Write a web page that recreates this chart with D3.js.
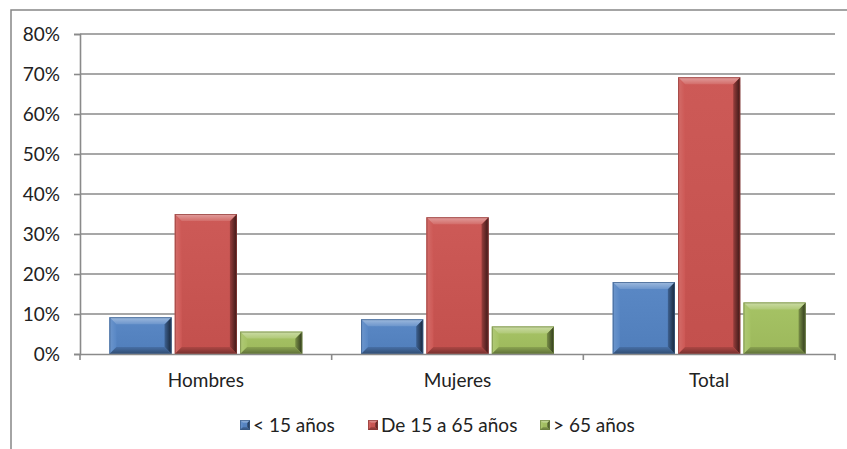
<!DOCTYPE html>
<html><head><meta charset="utf-8">
<script src="https://cdn.jsdelivr.net/npm/d3@7"></script>
<style>body{margin:0;background:#fff}svg{display:block}text{font-family:Lato,"Open Sans",sans-serif;fill:#222}</style>
</head><body>
<svg id="c" width="847" height="449"></svg>
<script>
const categories = ["Hombres","Mujeres","Total"];
const seriesNames = ["< 15 años","De 15 a 65 años","> 65 años"];
const seriesColors = ["#5383C3","#CB5350","#A2C05F"];
const under15 = [0.092,0.087,0.180];
const from15to65 = [0.350,0.342,0.692];
const over65 = [0.056,0.069,0.129];
const yTicks = [0,0.1,0.2,0.3,0.4,0.5,0.6,0.7,0.8];

const seriesValues = [under15, from15to65, over65];
const svg = d3.select("#c");
const defs = svg.append("defs");
const M = {left:80, right:835, top:34, bottom:354};
const FONT = "Lato,'Open Sans',sans-serif";

svg.append("rect").attr("x",11).attr("y",10).attr("width",900).attr("height",500)
  .attr("fill","none").attr("stroke","#868686").attr("stroke-width",1.5);

const x0 = d3.scaleBand().domain(categories).range([M.left,M.right]).paddingInner(0).paddingOuter(0);
const x1 = d3.scaleBand().domain(d3.range(3)).range([0,x0.bandwidth()]).paddingOuter(0.45).paddingInner(0.05);
const y = d3.scaleLinear().domain([0,0.8]).range([M.bottom,M.top]);

svg.append("g").selectAll("line").data(yTicks.slice(1)).join("line")
  .attr("x1",M.left).attr("x2",M.right).attr("y1",d=>y(d)).attr("y2",d=>y(d))
  .attr("stroke","#8a8a8a").attr("stroke-width",1.6);

const ya = svg.append("g").attr("transform",`translate(${M.left},0)`)
  .call(d3.axisLeft(y).tickValues(yTicks).tickFormat(d3.format(".0%")).tickSize(6).tickPadding(14));
ya.select(".domain").attr("stroke","#8a8a8a").attr("stroke-width",1.6);
ya.selectAll(".tick line").attr("stroke","#8a8a8a").attr("stroke-width",1.6);
ya.selectAll("text").attr("font-size",19).style("font-family",FONT).attr("fill","#222");

function mix(c, t, k){ const a=d3.color(c), b=d3.color(t); return d3.rgb(a.r+(b.r-a.r)*k, a.g+(b.g-a.g)*k, a.b+(b.b-a.b)*k).formatHex(); }

function grad(id, x1,y1,x2,y2, c1, c2){
  const g = defs.append("linearGradient").attr("id",id).attr("x1",x1).attr("y1",y1).attr("x2",x2).attr("y2",y2);
  g.append("stop").attr("offset","0%").attr("stop-color",c1);
  g.append("stop").attr("offset","100%").attr("stop-color",c2);
}
seriesColors.forEach((col,i)=>{
  grad("face"+i,0,0,0,1, mix(col,"#ffffff",0.04), mix(col,"#000000",0.04));
  grad("top"+i,0,0,0,1, mix(col,"#ffffff",0.45), mix(col,"#ffffff",0.15));
  grad("left"+i,0,0,1,0, mix(col,"#ffffff",0.15), mix(col,"#ffffff",0.03));
  grad("right"+i,0,0,1,0, mix(col,"#000000",0.25), mix(col,"#000000",0.72));
  grad("bot"+i,0,0,0,1, mix(col,"#000000",0.15), mix(col,"#000000",0.42));
});

function bevelRect(g, x, yy, w, h, i, b){
  const col = seriesColors[i];
  b = Math.min(b, h/2.2, w/2.2);
  const inner = [x+b, yy+b, x+w-b, yy+h-b];
  g.append("rect").attr("x",x).attr("y",yy).attr("width",w).attr("height",h).attr("fill",`url(#face${i})`);
  const poly = (pts, fill) => g.append("polygon").attr("points",pts.map(p=>p.join(",")).join(" ")).attr("fill",fill);
  poly([[x,yy],[inner[0],inner[1]],[inner[0],inner[3]],[x,yy+h]], `url(#left${i})`);
  poly([[x+w,yy],[x+w,yy+h],[inner[2],inner[3]],[inner[2],inner[1]]], `url(#right${i})`);
  poly([[x,yy+h],[inner[0],inner[3]],[inner[2],inner[3]],[x+w,yy+h]], `url(#bot${i})`);
  poly([[x,yy],[x+w,yy],[inner[2],inner[1]],[inner[0],inner[1]]], `url(#top${i})`);
  g.append("rect").attr("x",x+0.5).attr("y",yy+0.5).attr("width",w-1).attr("height",h-1)
    .attr("fill","none").attr("stroke",mix(col,"#000000",0.3)).attr("stroke-opacity",0.7).attr("stroke-width",1);
}

const bars = svg.append("g");
categories.forEach((cat,ci)=>{
  seriesValues.forEach((vals,si)=>{
    const bx = x0(cat)+x1(si), bw = x1.bandwidth();
    const top = y(vals[ci]);
    bevelRect(bars, bx, top, bw, y(0)-top, si, 7);
  });
});

const xa = svg.append("g").attr("transform",`translate(0,${M.bottom})`)
  .call(d3.axisBottom(x0).tickSize(0).tickPadding(20));
xa.select(".domain").attr("stroke","#8a8a8a").attr("stroke-width",1.6);
xa.selectAll("text").attr("font-size",19).style("font-family",FONT).attr("fill","#222");
svg.append("g").selectAll("line").data([M.left, ...categories.map(c=>x0(c)+x0.bandwidth())]).join("line")
  .attr("x1",d=>d).attr("x2",d=>d).attr("y1",M.bottom).attr("y2",M.bottom+6)
  .attr("stroke","#8a8a8a").attr("stroke-width",1.6);

const legX = [240, 368, 540];
const leg = svg.append("g");
seriesNames.forEach((n,i)=>{
  bevelRect(leg, legX[i], 420, 10, 10, i, 3);
  leg.append("text").attr("x",legX[i]+13).attr("y",432).attr("font-size",19).text(n);
});
</script>
</body></html>
